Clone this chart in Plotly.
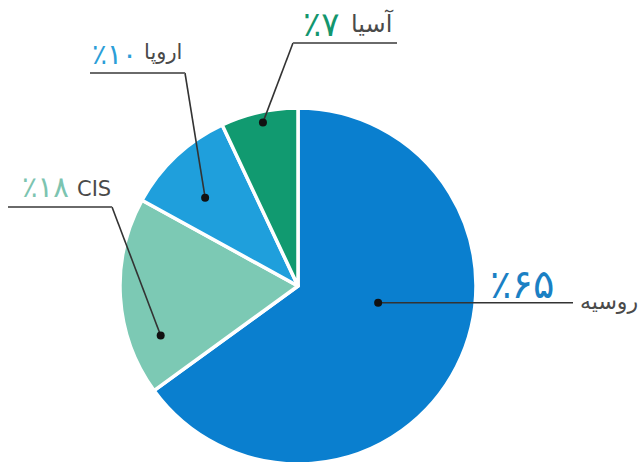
import math
import plotly.graph_objects as go

# ---- data ----
regions = ["روسیه", "CIS", "اروپا", "آسیا"]
shares = [65, 18, 10, 7]
pct_labels = ["٪۶۵", "٪۱۸", "٪۱۰", "٪۷"]

# ---- styles ----
colors = ["#0a7fcf", "#7cc9b4", "#1f9fdc", "#119a70"]
pct_colors = ["#1a80c4", "#7cc4b0", "#2b9ed8", "#13966e"]
W, H = 643, 470  # figure slightly taller than the window; the bottom of the pie is cropped
CX, CY, R = 298, 286, 178  # pixel geometry of the pie

# callout settings per slice (px): dot angle fraction in slice, radius fraction,
# elbow, line end x, name anchor (x, y centre), percent anchor (right x, y centre)
callouts = [
    dict(af=0.435, rf=0.46, elbow=None, end=573, name_x=578, name_y=301, pct_x=556, pct_y=284,
         pct_size=40, name_size=22),
    dict(af=0.25, rf=0.82, elbow=(112, 207), end=8, name_x=113, name_y=189, pct_x=71, pct_y=187,
         pct_size=29, name_size=21),
    dict(af=0.41, rf=0.72, elbow=(185, 73), end=90, name_x=184, name_y=52, pct_x=139, pct_y=54,
         pct_size=28, name_size=21),
    dict(af=0.52, rf=0.94, elbow=(293, 43), end=397, name_x=396, name_y=24, pct_x=342, pct_y=24,
         pct_size=34, name_size=24),
]

def px(x):
    return x / W

def py(y):
    return 1 - y / H

fig = go.Figure()
fig.add_trace(go.Pie(
    labels=regions, values=shares, sort=False, direction="clockwise", rotation=0,
    marker=dict(colors=colors, line=dict(color="white", width=3.5)),
    textinfo="none", hoverinfo="label+percent", showlegend=False,
    domain=dict(x=[(CX - R) / W, (CX + R) / W], y=[(H - CY - R) / H, (H - CY + R) / H]),
))

shapes, annotations = [], []
total = sum(shares)
start = 0.0
for i, v in enumerate(shares):
    c = callouts[i]
    ang = (start + c["af"] * v) / total * 2 * math.pi
    start += v
    dx = CX + c["rf"] * R * math.sin(ang)
    dy = CY - c["rf"] * R * math.cos(ang)
    line_col = "#333333"
    if c["elbow"] is None:
        shapes.append(dict(type="line", xref="paper", yref="paper", x0=px(dx), y0=py(dy),
                           x1=px(c["end"]), y1=py(dy), line=dict(color=line_col, width=1.6), layer="above"))
    else:
        ex, ly = c["elbow"]
        shapes.append(dict(type="line", xref="paper", yref="paper", x0=px(dx), y0=py(dy),
                           x1=px(ex), y1=py(ly), line=dict(color=line_col, width=1.6), layer="above"))
        shapes.append(dict(type="line", xref="paper", yref="paper", x0=px(ex), y0=py(ly),
                           x1=px(c["end"]), y1=py(ly), line=dict(color="#6a6a6a", width=1.8), layer="above"))
    shapes.append(dict(type="circle", xref="paper", yref="paper",
                       x0=px(dx - 4), x1=px(dx + 4), y0=py(dy + 4), y1=py(dy - 4),
                       fillcolor="#111111", line=dict(width=0), layer="above"))
    font_name = "DejaVu Sans"
    annotations.append(dict(x=px(c["pct_x"]), y=py(c["pct_y"]), xref="paper", yref="paper",
                            text=pct_labels[i], showarrow=False, xanchor="right", yanchor="middle",
                            font=dict(family=font_name, size=c["pct_size"], color=pct_colors[i])))
    annotations.append(dict(x=px(c["name_x"]), y=py(c["name_y"]), xref="paper", yref="paper",
                            text=regions[i], showarrow=False,
                            xanchor="left" if i == 0 else "right", yanchor="middle",
                            font=dict(family=font_name, size=c["name_size"], color="#4a4a4a")))

fig.update_layout(
    width=W, height=H, margin=dict(l=0, r=0, t=0, b=0),
    paper_bgcolor="white", plot_bgcolor="white",
    shapes=shapes, annotations=annotations,
)
fig.write_html("out.html", config={"displayModeBar": False},
               post_script="document.body.style.margin='0';document.body.style.overflow='hidden';")
